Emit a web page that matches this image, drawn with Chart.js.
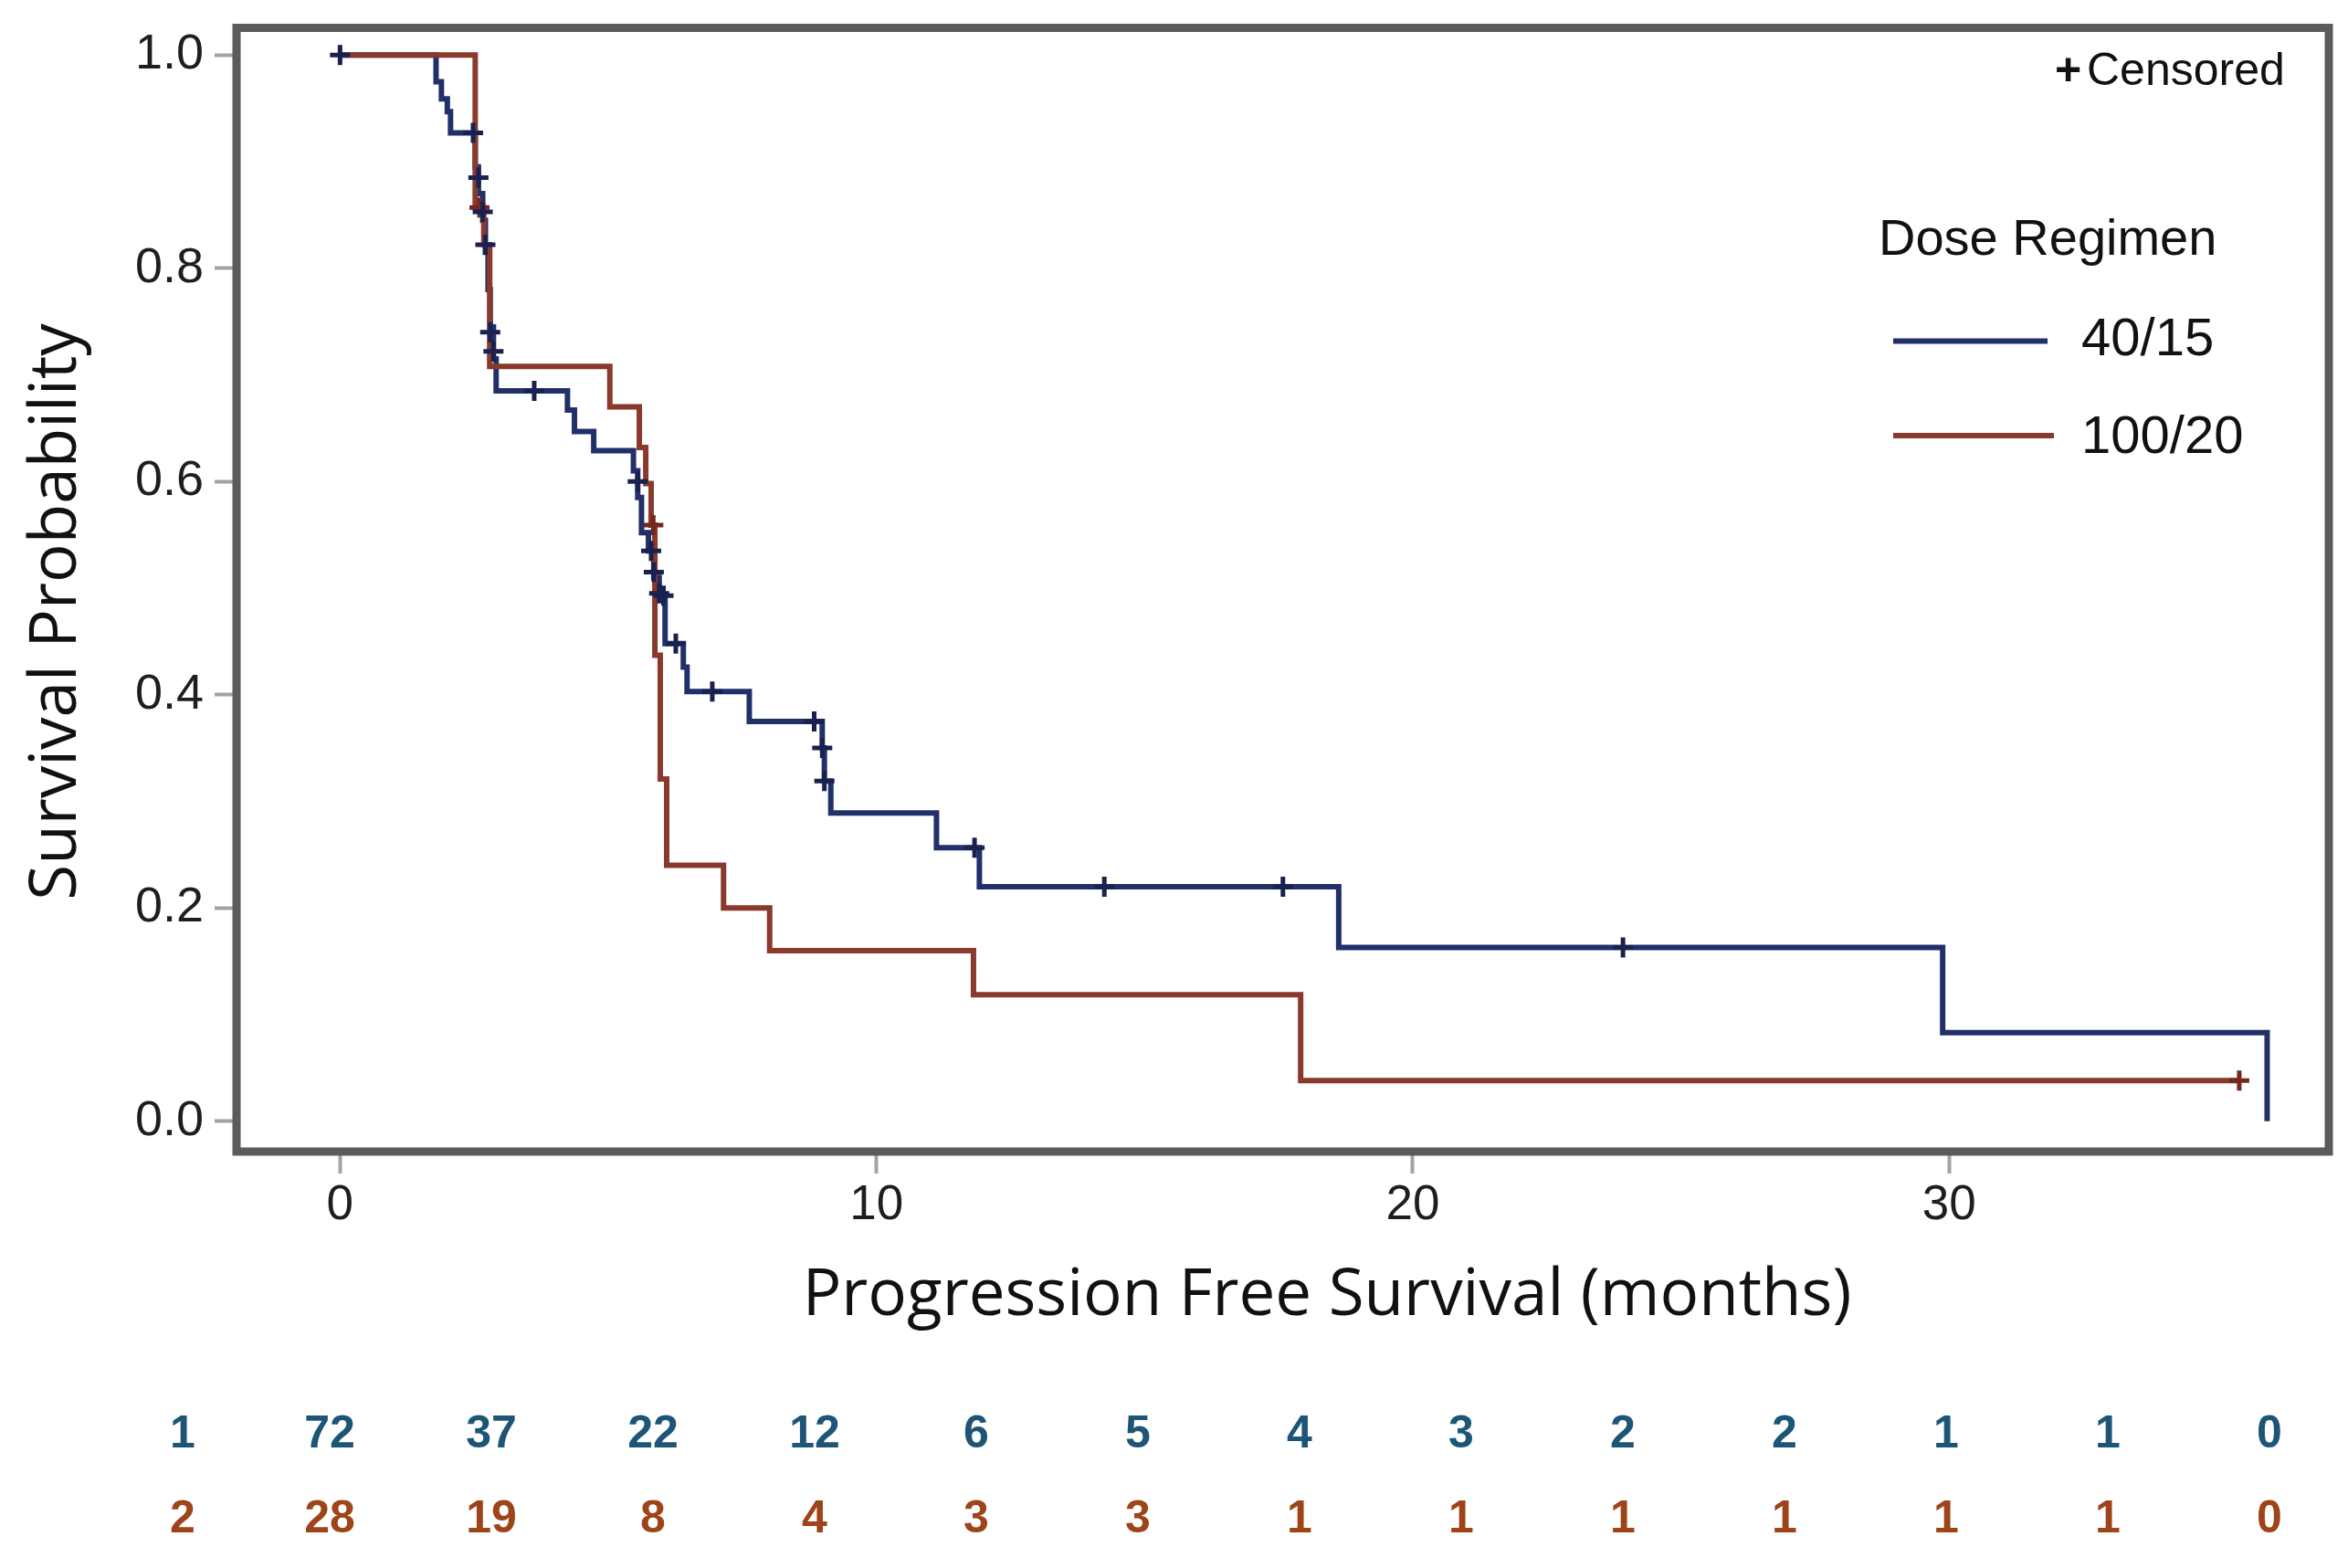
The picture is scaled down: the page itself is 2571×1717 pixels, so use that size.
<!DOCTYPE html>
<html>
<head>
<meta charset="utf-8">
<title>Progression Free Survival by Dose Regimen</title>
<script src="https://cdn.jsdelivr.net/npm/chart.js@4.4.1/dist/chart.umd.min.js"></script>
<style>
  html, body { margin: 0; padding: 0; background: #fff; }
  #wrap { position: relative; width: 2571px; height: 1717px; }
</style>
</head>
<body>
<div id="wrap"><canvas id="pfsChart"></canvas></div>
<script>
// Kaplan-Meier steps: time in months, survival probability after the step
const groupNames = ['40/15', '100/20'];
const riskGroups = ['1', '2'];

const blueTimes = [0, 1.79, 1.89, 2.00, 2.06, 2.52, 2.58, 2.66, 2.71, 2.76, 2.80, 2.86, 2.91,
  4.24, 4.37, 4.73, 5.47, 5.55, 5.62, 5.75, 5.85, 5.95, 6.06, 6.40, 6.47, 7.63,
  8.99, 9.03, 9.15, 11.12, 11.92, 18.62, 29.88, 35.93];
const blueSurv = [1.0, 0.975, 0.959, 0.947, 0.927, 0.895, 0.870, 0.845, 0.815, 0.780, 0.745, 0.715, 0.685,
  0.667, 0.647, 0.629, 0.610, 0.585, 0.552, 0.535, 0.510, 0.493, 0.448, 0.426, 0.403, 0.375,
  0.350, 0.319, 0.289, 0.2565, 0.220, 0.163, 0.083, 0.0];
const blueCensorTimes = [0, 2.48, 2.58, 2.66, 2.71, 2.80, 2.86, 3.62, 5.55, 5.80, 5.85, 5.95, 6.03,
  6.26, 6.94, 8.84, 8.99, 9.03, 11.83, 14.25, 17.58, 23.92];
const blueCensorSurv = [1.0, 0.927, 0.885, 0.853, 0.822, 0.740, 0.722, 0.685, 0.600, 0.535, 0.515, 0.495, 0.493,
  0.448, 0.403, 0.375, 0.350, 0.319, 0.2565, 0.220, 0.220, 0.163];

const redTimes = [0, 2.52, 2.68, 2.79, 5.03, 5.58, 5.70, 5.80, 5.87, 5.97, 6.09, 7.15, 8.01, 11.81, 17.91, 35.41];
const redSurv = [1.0, 0.857, 0.822, 0.708, 0.670, 0.632, 0.598, 0.559, 0.437, 0.321, 0.240, 0.200, 0.160, 0.1187, 0.038, 0.038];
const redCensorTimes = [2.60, 5.84, 35.41];
const redCensorSurv = [0.857, 0.559, 0.038];

// numbers at risk, one column every 3 months from 0 to 36
const riskBlue = [72, 37, 22, 12, 6, 5, 4, 3, 2, 2, 1, 1, 0];
const riskRed = [28, 19, 8, 4, 3, 3, 1, 1, 1, 1, 1, 1, 0];

const xTicks = [0, 10, 20, 30];
const yTicks = [0, 0.2, 0.4, 0.6, 0.8, 1.0];

const xTitle = 'Progression Free Survival (months)';
const yTitle = 'Survival Probability';

const BLUE = '#22306a', RED = '#8a392d';
const BLUE_MARK = '#18214f', RED_MARK = '#74281f';
const SANS = "'Liberation Sans', Arial, sans-serif";
const TITLE_FONT = "71px 'Open Sans', sans-serif";

const pts = (xs, ys) => xs.map((x, i) => ({ x: x, y: ys[i] }));

const frame = {
    id: 'frame',
    afterDraw(chart) {
        const { ctx, chartArea: a } = chart;
        ctx.save();
        ctx.strokeStyle = '#5b5b5b';
        ctx.lineWidth = 9;
        ctx.strokeRect(a.left, a.top, a.right - a.left, a.bottom - a.top);
        ctx.restore();
    }
};

// axis titles sit a little off-centre in the original, so they are placed by hand
const axisTitles = {
    id: 'axisTitles',
    afterDraw(chart) {
        const ctx = chart.ctx;
        ctx.save();
        ctx.fillStyle = '#111';
        ctx.font = TITLE_FONT;
        ctx.textAlign = 'center';
        ctx.textBaseline = 'alphabetic';
        ctx.fillText(xTitle, 1453, 1440);
        ctx.translate(83, 670);
        ctx.rotate(-Math.PI / 2);
        ctx.fillText(yTitle, 0, 0);
        ctx.restore();
    }
};

const kmLegend = {
    id: 'kmLegend',
    afterDraw(chart) {
        const ctx = chart.ctx;
        ctx.save();
        ctx.fillStyle = '#111';
        ctx.textBaseline = 'alphabetic';
        ctx.textAlign = 'left';
        ctx.font = 'bold 50px ' + SANS;
        ctx.fillText('+', 2250, 93);
        ctx.font = '50px ' + SANS;
        ctx.fillText('Censored', 2285, 93);
        ctx.font = '56px ' + SANS;
        ctx.fillText('Dose Regimen', 2057, 279);

        const rows = chart.data.datasets.filter(d => d.legendRank !== undefined)
            .sort((a, b) => a.legendRank - b.legendRank);
        const lineY = [373.5, 477], textY = [389, 496], lineEnd = [2242, 2249];
        rows.forEach((d, i) => {
            ctx.strokeStyle = d.borderColor;
            ctx.lineWidth = 6;
            ctx.beginPath();
            ctx.moveTo(2073, lineY[i]);
            ctx.lineTo(lineEnd[i], lineY[i]);
            ctx.stroke();
            ctx.font = '58px ' + SANS;
            ctx.fillText(d.label, 2279, textY[i]);
        });
        ctx.restore();
    }
};

const riskTable = {
    id: 'riskTable',
    afterDraw(chart) {
        const ctx = chart.ctx;
        ctx.save();
        ctx.font = 'bold 50px ' + SANS;
        ctx.textAlign = 'center';
        ctx.textBaseline = 'alphabetic';
        [[riskBlue, '#1d5577', 1585], [riskRed, '#9e4419', 1678]].forEach(([vals, col, y], r) => {
            ctx.fillStyle = col;
            ctx.fillText(riskGroups[r], 200, y);
            vals.forEach((v, i) => ctx.fillText(String(v), 361 + 177 * i, y));
        });
        ctx.restore();
    }
};

new Chart(document.getElementById('pfsChart'), {
    type: 'line',
    data: {
        datasets: [
            { label: 'censor 40/15', data: pts(blueCensorTimes, blueCensorSurv), showLine: false,
              pointStyle: 'cross', pointRadius: 11, pointBorderWidth: 5, pointBorderColor: BLUE_MARK, order: 0 },
            { label: 'censor 100/20', data: pts(redCensorTimes, redCensorSurv), showLine: false,
              pointStyle: 'cross', pointRadius: 11, pointBorderWidth: 5, pointBorderColor: RED_MARK, order: 0 },
            { label: groupNames[1], legendRank: 1, data: pts(redTimes, redSurv), borderColor: RED,
              borderWidth: 6, stepped: 'before', pointRadius: 0, fill: false, order: 1 },
            { label: groupNames[0], legendRank: 0, data: pts(blueTimes, blueSurv), borderColor: BLUE,
              borderWidth: 6, stepped: 'before', pointRadius: 0, fill: false, order: 2 },
        ]
    },
    options: {
        responsive: true,
        maintainAspectRatio: false,
        animation: false,
        events: [],
        layout: { padding: { top: 30.5, right: 21, bottom: 0, left: 0 } },
        plugins: { legend: { display: false }, tooltip: { enabled: false } },
        scales: {
            x: {
                type: 'linear', min: -1.93, max: 37.08,
                afterBuildTicks: s => { s.ticks = xTicks.map(v => ({ value: v })); },
                afterFit: s => { s.height = 456; s.paddingLeft = 0; s.paddingRight = 0; },
                grid: { drawOnChartArea: false, tickLength: 24, tickColor: '#a3a3a3', tickWidth: 4 },
                border: { display: false },
                ticks: { padding: 4, color: '#1e1e1e', font: { family: SANS, size: 53 } },
                title: { display: false, text: xTitle }
            },
            y: {
                type: 'linear', min: -0.0285, max: 1.0255,
                afterBuildTicks: s => { s.ticks = yTicks.map(v => ({ value: v })); },
                afterFit: s => { s.width = 259; s.paddingTop = 0; s.paddingBottom = 0; },
                grid: { drawOnChartArea: false, tickLength: 24, tickColor: '#a3a3a3', tickWidth: 4 },
                border: { display: false },
                ticks: { padding: 12, color: '#1e1e1e', font: { family: SANS, size: 54 },
                         callback: v => Number(v).toFixed(1) },
                title: { display: false, text: yTitle }
            }
        }
    },
    plugins: [frame, axisTitles, kmLegend, riskTable]
});
</script>
</body>
</html>
